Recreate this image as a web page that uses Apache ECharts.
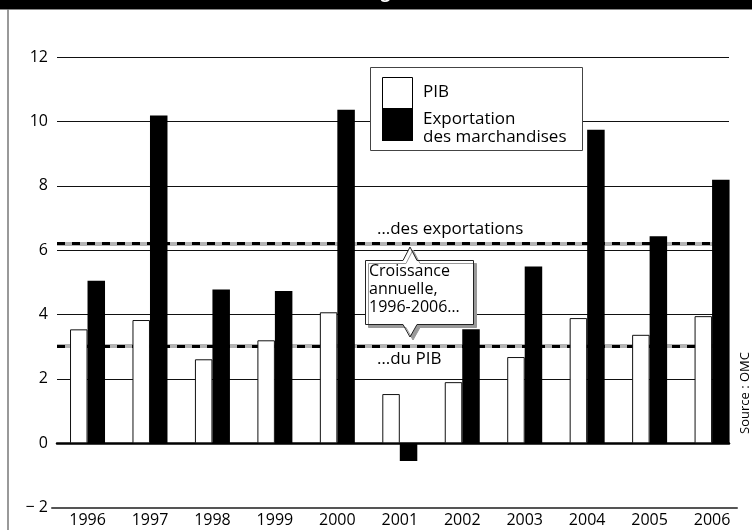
<!DOCTYPE html>
<html>
<head>
<meta charset="utf-8">
<script src="https://cdn.jsdelivr.net/npm/echarts@6/dist/echarts.min.js"></script>
<style>
  html, body { margin: 0; padding: 0; background: #fff; }
  #chart { width: 752px; height: 530px; }
</style>
</head>
<body>
<div id="chart"></div>
<script>
// Annual growth (%) of world GDP and merchandise exports
const years = ['1996', '1997', '1998', '1999', '2000', '2001', '2002', '2003', '2004', '2005', '2006'];
const pib = [3.54, 3.83, 2.61, 3.20, 4.07, 1.53, 1.90, 2.68, 3.89, 3.37, 3.95];
const exportations = [5.05, 10.18, 4.78, 4.73, 10.36, -0.55, 3.54, 5.49, 9.74, 6.43, 8.19];

// Average annual growth over 1996-2006
const moyenneExportations = 6.21;
const moyennePib = 3.03;

// Value axis
const yMin = -2, yMax = 12, yStep = 2;
const yTickLabels = ['\u2212 2', '0', '2', '4', '6', '8', '10', '12'];

const FONT = '"Open Sans", "Noto Sans", sans-serif';
const chart = echarts.init(document.getElementById('chart'), null, { renderer: 'canvas' });

const gridTop = 57, gridBottom = 22.3;

const valueAxis = (gi, extra) => Object.assign({
  type: 'value', gridIndex: gi, min: yMin, max: yMax, interval: yStep,
  axisLine: { show: false }, axisTick: { show: false },
  axisLabel: { show: false }, splitLine: { show: false }
}, extra || {});

const option = {
  animation: false,
  backgroundColor: '#fff',
  textStyle: { fontFamily: FONT },
  grid: [
    { left: 57, right: 23, top: gridTop, bottom: gridBottom },   // gridlines, zero line, averages
    { left: 52, right: 15, top: gridTop, bottom: gridBottom },   // baseline at -2
    { left: 56.3, right: 8.7, top: gridTop, bottom: gridBottom } // bars and year labels
  ],
  xAxis: [
    { type: 'category', gridIndex: 0, data: years,
      axisLine: { show: true, onZero: true, lineStyle: { color: '#000', width: 2.5 } },
      axisTick: { show: false }, axisLabel: { show: false }, splitLine: { show: false } },
    { type: 'category', gridIndex: 1, data: years,
      axisLine: { show: true, onZero: false, lineStyle: { color: '#555', width: 2 } },
      axisTick: { show: false }, axisLabel: { show: false }, splitLine: { show: false } },
    { type: 'category', gridIndex: 2, data: years,
      axisLine: { show: false }, axisTick: { show: false }, splitLine: { show: false },
      axisLabel: { color: '#000', fontSize: 16, fontFamily: FONT, margin: 5 } }
  ],
  yAxis: [
    valueAxis(0, {
      axisLabel: {
        show: true, color: '#000', fontSize: 16, fontFamily: FONT, margin: 9,
        formatter: v => yTickLabels[Math.round((v - yMin) / yStep)]
      },
      splitLine: { show: true, lineStyle: {
        color: ['rgba(0,0,0,0)', '#111', '#111', '#111', '#111', '#111', '#111', '#111'], width: 1.2 } }
    }),
    valueAxis(1),
    valueAxis(2)
  ],
  series: [
    {
      // average growth lines: grey band with black dashes
      type: 'line', xAxisIndex: 0, yAxisIndex: 0, data: [], z: 1, silent: true,
      markLine: {
        z: 1, silent: true, symbol: ['none', 'none'], label: { show: false },
        data: [
          { yAxis: moyenneExportations, lineStyle: { color: '#b4b4b4', width: 4, type: 'solid' } },
          { yAxis: moyennePib, lineStyle: { color: '#b4b4b4', width: 4, type: 'solid' } },
          { yAxis: moyenneExportations, lineStyle: { color: '#000', width: 3, type: [8, 7] } },
          { yAxis: moyennePib, lineStyle: { color: '#000', width: 3, type: [8, 7] } }
        ]
      }
    },
    {
      name: 'PIB', type: 'bar', xAxisIndex: 2, yAxisIndex: 2, data: pib, z: 3,
      barWidth: 17.5, barGap: '0%',
      itemStyle: { color: '#fff', borderColor: '#111', borderWidth: 1 }
    },
    {
      name: 'Exportation des marchandises', type: 'bar', xAxisIndex: 2, yAxisIndex: 2, data: exportations, z: 3,
      barWidth: 17.5, barGap: '0%',
      itemStyle: { color: '#000' }
    }
  ],
  graphic: [
    // heading band
    { type: 'rect', z: 200, shape: { x: 0, y: 0, width: 752, height: 9 }, style: { fill: '#000' } },
    { type: 'line', z: 200, shape: { x1: 0, y1: 9.5, x2: 752, y2: 9.5 }, style: { stroke: '#888', lineWidth: 1 } },
    { type: 'text', z: 201, x: 712, y: 2,
      style: { text: 'Croissance annuelle en volume des échanges de marchandises et du PIB mondial', align: 'right', verticalAlign: 'bottom',
        fill: '#fff', font: 'bold 17px ' + FONT } },
    { type: 'text', z: 201, x: 712, y: 2,
      style: { text: ', 1996-2006', align: 'left', verticalAlign: 'bottom',
        fill: '#fff', font: 'bold 17px ' + FONT } },
    // left frame rule
    { type: 'line', z: 200, shape: { x1: 8, y1: 9, x2: 8, y2: 530 }, style: { stroke: '#777', lineWidth: 1.5 } },

    // legend
    { type: 'rect', z: 100, shape: { x: 370.5, y: 67.5, width: 212, height: 83 },
      style: { fill: '#fff', stroke: '#444', lineWidth: 1 } },
    { type: 'rect', z: 101, shape: { x: 382.5, y: 77.5, width: 30, height: 31 },
      style: { fill: '#fff', stroke: '#000', lineWidth: 1 } },
    { type: 'rect', z: 101, shape: { x: 382, y: 108, width: 31, height: 33 },
      style: { fill: '#000' } },
    { type: 'text', z: 101, x: 423, y: 92,
      style: { text: 'PIB', fill: '#000', font: '17px ' + FONT, verticalAlign: 'middle' } },
    { type: 'text', z: 101, x: 423, y: 119,
      style: { text: 'Exportation', fill: '#000', font: '17px ' + FONT, verticalAlign: 'middle' } },
    { type: 'text', z: 101, x: 423, y: 137,
      style: { text: 'des marchandises', fill: '#000', font: '17px ' + FONT, verticalAlign: 'middle' } },

    // labels of the average lines
    { type: 'text', z: 101, x: 377, y: 229,
      style: { text: '\u2026des exportations', fill: '#000', font: '17px ' + FONT, verticalAlign: 'middle' } },
    { type: 'text', z: 101, x: 377, y: 359,
      style: { text: '\u2026du PIB', fill: '#000', font: '17px ' + FONT, verticalAlign: 'middle' } },

    // callout pointing to both average lines
    { type: 'polygon', z: 100,
      shape: { points: [
        [365.5, 260.5], [403, 260.5], [410, 247], [417, 260.5], [473.5, 260.5],
        [473.5, 324.5], [417, 324.5], [410, 337], [403, 324.5], [365.5, 324.5]
      ] },
      style: { fill: '#fff', stroke: '#222', lineWidth: 1,
        shadowColor: '#999', shadowOffsetX: 3, shadowOffsetY: 3, shadowBlur: 0 } },
    { type: 'text', z: 101, x: 369, y: 262,
      style: { text: 'Croissance\nannuelle,\n1996-2006\u2026', fill: '#000', font: '16px ' + FONT,
        lineHeight: 18, verticalAlign: 'top' } },

    // source
    { type: 'text', z: 101, x: 745, y: 393, rotation: Math.PI / 2,
      style: { text: 'Source : OMC', fill: '#000', font: '13px ' + FONT, align: 'center', verticalAlign: 'middle' } }
  ]
};

chart.setOption(option);
</script>
</body>
</html>
